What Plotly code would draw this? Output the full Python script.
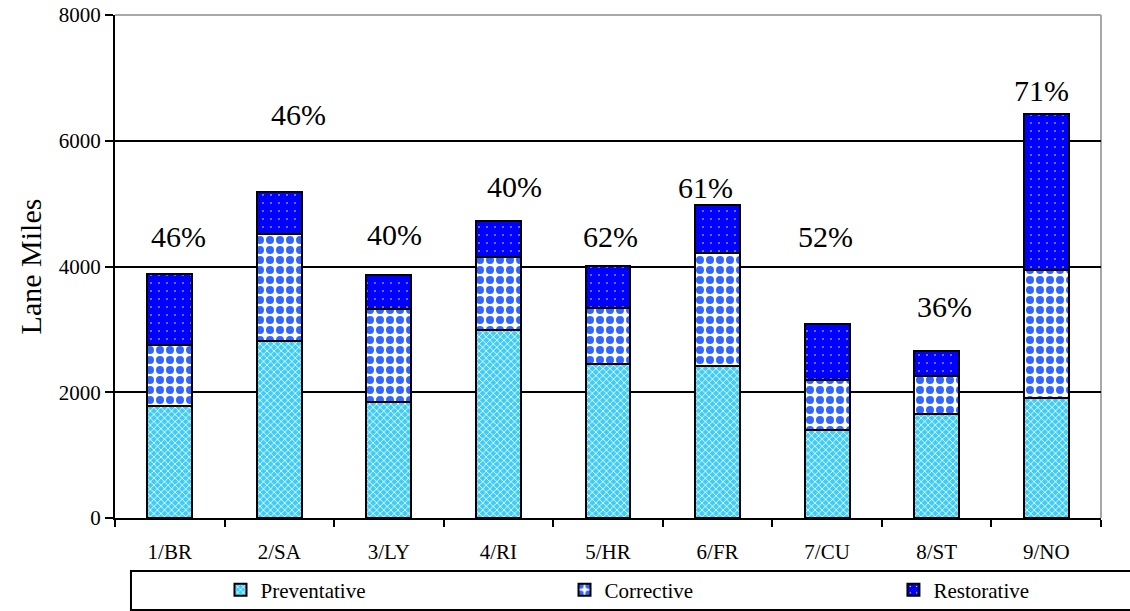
import plotly.graph_objects as go

categories = ["1/BR", "2/SA", "3/LY", "4/RI", "5/HR", "6/FR", "7/CU", "8/ST", "9/NO"]
preventative = [1785, 2820, 1838, 2985, 2454, 2422, 1402, 1657, 1907]
corrective_top = [2746, 4510, 3325, 4154, 3347, 4207, 2199, 2263, 3941]
total_top = [3888, 5179, 3872, 4722, 4011, 4977, 3087, 2661, 6422]
corrective = [c - p for c, p in zip(corrective_top, preventative)]
restorative = [t - c for t, c in zip(total_top, corrective_top)]
pct_labels = ["46%", "46%", "40%", "40%", "62%", "61%", "52%", "36%", "71%"]
pct_label_y = [4478, 6422, 4510, 5275, 4478, 5259, 4478, 3363, 6805]
pct_label_xshift = [9, 19, 6, 16, 2, -12, -2, 8, -5]

FONT = "Liberation Serif"

fig = go.Figure()
fig.add_trace(go.Bar(
    x=categories, y=preventative, name="Preventative", legend="legend",
    marker=dict(color="#3FCDF5", line=dict(color="black", width=2),
                pattern=dict(shape="x", fgcolor="white", fgopacity=1, size=5, solidity=0.3)),
))
fig.add_trace(go.Bar(
    x=categories, y=corrective, name="Corrective", legend="legend2",
    marker=dict(color="white", line=dict(color="black", width=2),
                pattern=dict(shape=".", fgcolor="#3366FF", fgopacity=1, bgcolor="white", size=10, solidity=0.5)),
))
fig.add_trace(go.Bar(
    x=categories, y=restorative, name="Restorative", legend="legend3",
    marker=dict(color="#0000FF", line=dict(color="black", width=2),
                pattern=dict(shape=".", fgcolor="white", fgopacity=1, size=8, solidity=0.03)),
))

for cat, txt, yv, xs in zip(categories, pct_labels, pct_label_y, pct_label_xshift):
    fig.add_annotation(x=cat, y=yv, text=txt, showarrow=False, xshift=xs,
                       yanchor="middle", font=dict(family=FONT, size=30, color="black"))

# plot frame (grey top/right) and legend box
fig.add_shape(type="line", xref="paper", yref="paper", x0=0, x1=1, y0=1, y1=1,
              line=dict(color="#A8A8A8", width=2), layer="above")
fig.add_shape(type="line", xref="paper", yref="paper", x0=1, x1=1, y0=0, y1=1,
              line=dict(color="#A8A8A8", width=2), layer="below")
fig.add_shape(type="rect", xref="paper", yref="paper", x0=0.0162, x1=1.06, y0=-0.1054, y1=-0.183,
              line=dict(color="black", width=2), fillcolor="rgba(0,0,0,0)")

leg_common = dict(orientation="h", xanchor="left", y=-0.1431, yanchor="middle",
                  font=dict(family=FONT, size=21, color="black"),
                  bgcolor="rgba(0,0,0,0)", borderwidth=0)

fig.update_layout(
    width=1130, height=611,
    margin=dict(l=115, r=29, t=15, b=93, autoexpand=False),
    paper_bgcolor="white", plot_bgcolor="white",
    barmode="stack", bargap=0.59,
    font=dict(family=FONT, color="black", size=21),
    showlegend=True,
    legend=dict(x=0.107, **leg_common),
    legend2=dict(x=0.4559, **leg_common),
    legend3=dict(x=0.7895, **leg_common),
    xaxis=dict(showline=True, linecolor="black", linewidth=2, ticks="outside",
               tickson="boundaries", ticklen=7, tickwidth=2, tickcolor="black",
               showgrid=False, tickfont=dict(family=FONT, size=21), ticklabelstandoff=14),
    yaxis=dict(range=[0, 8000], dtick=2000, showline=True, linecolor="black", linewidth=2,
               ticks="outside", ticklen=8, tickwidth=2, tickcolor="black",
               showgrid=True, gridcolor="black", gridwidth=1.5, zeroline=False,
               tickfont=dict(family=FONT, size=21), automargin=False,
               ticklabeloverflow="allow",
               title=dict(text="Lane Miles", font=dict(family=FONT, size=30), standoff=8)),
)

fig.write_html(
    "out.html",
    config={"displayModeBar": False},
    post_script="document.body.style.margin='0';document.documentElement.style.overflow='hidden';",
)
